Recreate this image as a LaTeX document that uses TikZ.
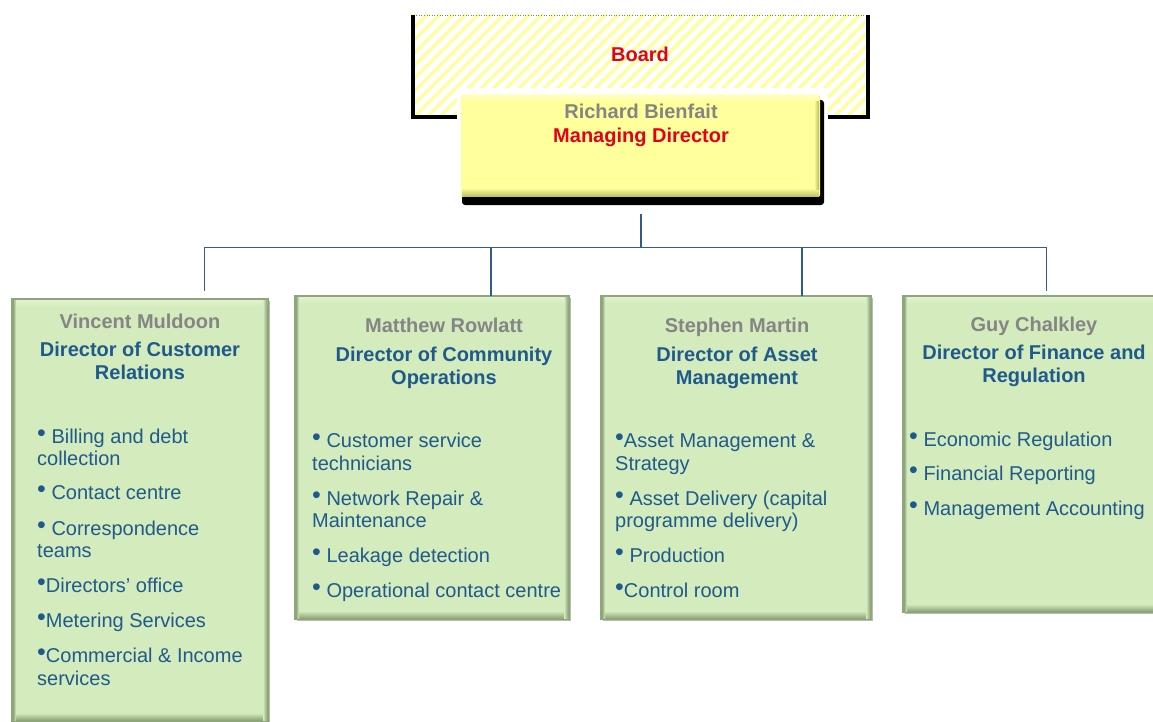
\documentclass[tikz,border=0pt]{standalone}
\usepackage{fontspec}
\setmainfont{Liberation Sans}
\usetikzlibrary{patterns.meta}

\definecolor{lineblue}{HTML}{2F5B8E}
\definecolor{namegray}{HTML}{858585}
\definecolor{deptblue}{HTML}{1F5A8D}
\definecolor{boardred}{HTML}{E2001A}
\definecolor{greenfill}{HTML}{D4EBBD}
\definecolor{greenlight}{HTML}{E0F2CE}
\definecolor{greendark}{HTML}{8FA67B}
\definecolor{mdyellow}{HTML}{FFFF9C}
\definecolor{mdyellowdark}{HTML}{B8B862}
\definecolor{hatch}{HTML}{FFFF99}

\newcommand\bul{\raisebox{2pt}{\fontsize{25}{25}\selectfont\textbullet}}

\tikzset{
  txt/.style={inner sep=0pt, font=\fontsize{20}{22}\selectfont},
  pname/.style={txt, anchor=base, text=namegray, font=\fontsize{20}{22}\selectfont\bfseries},
  ptitle/.style={txt, anchor=base, text=deptblue, font=\fontsize{20}{22}\selectfont\bfseries},
  pitem/.style={txt, anchor=base west, text=deptblue},
  redtitle/.style={txt, anchor=base, text=boardred, font=\fontsize{20}{22}\selectfont\bfseries},
  link/.style={draw=lineblue, line width=0.9pt},
  mainlink/.style={draw=lineblue, line width=1.4pt},
  deptbox/.style={rectangle, draw=greendark, line width=1.2pt, fill=greenfill, inner sep=0pt},
}

% green department box with bevelled edges: #1 name, #2/#3 top-left, #4/#5 bottom-right
\newcommand\deptpanel[5]{%
  \fill[gray!55] (#2+2,#3+2) rectangle (#4+2,#5+2);
  \node[deptbox, minimum width=#4-#2, minimum height=#5-#3] (#1) at ({(#2+#4)/2},{(#3+#5)/2}) {};
  \shade[top color=greenlight, bottom color=greenfill] (#2+1,#3+1) rectangle (#4-1,#3+8);
  \shade[top color=greenfill, bottom color=greendark] (#2+1,#5-8) rectangle (#4-1,#5-1);
  \shade[left color=greenfill, right color=greendark] (#4-5,#3+1) rectangle (#4-1,#5-1);
  \shade[left color=greendark, right color=greenfill] (#2+1,#3+1) rectangle (#2+4,#5-1);
}

\begin{document}
\begin{tikzpicture}[x=1pt,y=-1pt]
\clip (0,0) rectangle (1153,722);
\fill[white] (0,0) rectangle (1153,722);

% Board
\node[rectangle, inner sep=0pt, minimum width=459, minimum height=104,
      pattern={Lines[angle=45,distance=9pt,line width=3.2pt]}, pattern color=hatch]
      (board) at (640.5,67) {};
\draw[gray, line width=0.6pt, dotted] (411,15) -- (870,15);
\draw[black, line width=4pt] (413,15) -- (413,117) -- (868,117) -- (868,15);
\node[redtitle] (boardlbl) at (640,62) {Board};

% Managing director
\fill[white] (457,88) rectangle (828,200);
\fill[black, rounded corners=3pt] (462,100) rectangle (824,205);
\node[rectangle, inner sep=0pt, minimum width=359, minimum height=102,
      fill=mdyellow, rounded corners=2pt] (md) at (640.5,146) {};
\shade[top color=mdyellow, bottom color=mdyellowdark, rounded corners=2pt] (462,188) rectangle (819,197);
\shade[left color=mdyellow, right color=mdyellowdark] (814,96) rectangle (819,190);
\shade[top color=white!40!mdyellow, bottom color=mdyellow] (462,95) rectangle (819,101);
\node[pname] (mdname) at (641,119) {Richard Bienfait};
\node[redtitle] (mdtitle) at (641,143) {Managing Director};

% Department boxes
\deptpanel{d1}{12}{299}{268}{721}
\deptpanel{d2}{295}{296}{569}{619}
\deptpanel{d3}{601}{296}{871}{619}
\deptpanel{d4}{903}{296}{1165}{612}

% Reporting lines
\coordinate (mdout) at (641,214);
\coordinate (hub) at (641,247);
\coordinate (j1) at (204,247);
\coordinate (j2) at (491,247);
\coordinate (j3) at (802,247);
\coordinate (j4) at (1046,247);
\coordinate (e1) at (204,291);
\coordinate (e2) at (491,296);
\coordinate (e3) at (802,296);
\coordinate (e4) at (1046,291);
\draw[mainlink] (mdout) -- (hub);
\draw[link] (j1) -- (j4);
\draw[link] (j1) -- (e1);
\draw[mainlink] (j2) -- (e2);
\draw[mainlink] (j3) -- (e3);
\draw[link] (j4) -- (e4);

% Customer Relations
\node[pname] (n1) at (140,328) {Vincent Muldoon};
\node[ptitle] (t1a) at (140,356) {Director of Customer};
\node[ptitle] (t1b) at (140,379) {Relations};
\node[pitem] (i1a) at (37,443) {\bul{} Billing and debt};
\node[pitem] (i1b) at (37,465) {collection};
\node[pitem] (i1c) at (37,499) {\bul{} Contact centre};
\node[pitem] (i1d) at (37,535) {\bul{} Correspondence};
\node[pitem] (i1e) at (37,557) {teams};
\node[pitem] (i1f) at (37,592) {\bul Directors’ office};
\node[pitem] (i1g) at (37,627) {\bul Metering Services};
\node[pitem] (i1h) at (37,662) {\bul Commercial \& Income};
\node[pitem] (i1i) at (37,685) {services};

% Community Operations
\node[pname] (n2) at (444,332) {Matthew Rowlatt};
\node[ptitle] (t2a) at (444,361) {Director of Community};
\node[ptitle] (t2b) at (444,384) {Operations};
\node[pitem] (i2a) at (312,447) {\bul{} Customer service};
\node[pitem] (i2b) at (312,470) {technicians};
\node[pitem] (i2c) at (312,505) {\bul{} Network Repair \&};
\node[pitem] (i2d) at (312,527) {Maintenance};
\node[pitem] (i2e) at (312,562) {\bul{} Leakage detection};
\node[pitem] (i2f) at (312,597) {\bul{} Operational contact centre};

% Asset Management
\node[pname] (n3) at (737,332) {Stephen Martin};
\node[ptitle] (t3a) at (737,361) {Director of Asset};
\node[ptitle] (t3b) at (737,384) {Management};
\node[pitem] (i3a) at (615,447) {\bul Asset Management \&};
\node[pitem] (i3b) at (615,470) {Strategy};
\node[pitem] (i3c) at (615,505) {\bul{} Asset Delivery (capital};
\node[pitem] (i3d) at (615,527) {programme delivery)};
\node[pitem] (i3e) at (615,562) {\bul{} Production};
\node[pitem] (i3f) at (615,597) {\bul Control room};

% Finance and Regulation
\node[pname] (n4) at (1034,331) {Guy Chalkley};
\node[ptitle] (t4a) at (1034,359) {Director of Finance and};
\node[ptitle] (t4b) at (1034,382) {Regulation};
\node[pitem] (i4a) at (909,446) {\bul{} Economic Regulation};
\node[pitem] (i4b) at (909,480) {\bul{} Financial Reporting};
\node[pitem] (i4c) at (909,515) {\bul{} Management Accounting};
\end{tikzpicture}
\end{document}
